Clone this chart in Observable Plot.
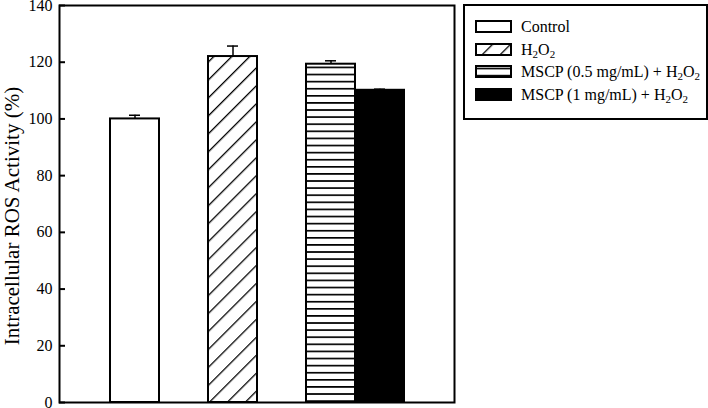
<!DOCTYPE html>
<html>
<head>
<meta charset="utf-8">
<script src="https://cdn.jsdelivr.net/npm/d3@7"></script>
<script src="https://cdn.jsdelivr.net/npm/@observablehq/plot@0.6"></script>
<style>
  html, body { margin: 0; padding: 0; background: #fff; }
  #wrap { position: relative; width: 708px; height: 408px; font-family: "Liberation Serif", "Times New Roman", serif; }
  #legend { position: absolute; left: 463px; top: 4px; width: 241px; height: 112px; border: 2px solid #000; background: #fff; }
  .row { position: absolute; left: 10px; height: 20px; display: flex; align-items: center; font-size: 16px; color: #000; white-space: nowrap; }
  .row svg { margin-right: 8px; }
  sub { font-size: 11px; vertical-align: -3px; line-height: 0; }
</style>
</head>
<body>
<svg width="0" height="0" style="position:absolute">
  <defs>
    <pattern id="diag" patternUnits="userSpaceOnUse" width="12.7" height="12.7" patternTransform="rotate(45)">
      <rect width="12.7" height="12.7" fill="#fff"/>
      <line x1="0" y1="0" x2="0" y2="12.7" stroke="#000" stroke-width="2.6"/>
    </pattern>
    <pattern id="horiz" patternUnits="userSpaceOnUse" width="8" height="7.1">
      <rect width="8" height="7.1" fill="#fff"/>
      <line x1="0" y1="3.5" x2="8" y2="3.5" stroke="#000" stroke-width="1.7"/>
    </pattern>
  </defs>
</svg>
<div id="wrap"></div>
<script>
// ---- data ----
const categories = ["Control", "H2O2", "MSCP (0.5 mg/mL) + H2O2", "MSCP (1 mg/mL) + H2O2"];
const values = [100, 122, 119.3, 110.1];
const errors = [1.3, 3.7, 1.2, 0.4];
const yTicks = [0, 20, 40, 60, 80, 100, 120, 140];
const yLabel = "Intracellular ROS Activity (%)";
const legendLabels = ["Control", "H<sub>2</sub>O<sub>2</sub>", "MSCP (0.5 mg/mL) + H<sub>2</sub>O<sub>2</sub>", "MSCP (1 mg/mL) + H<sub>2</sub>O<sub>2</sub>"];

// ---- styles ----
const fills = ["#fff", "url(#diag)", "url(#horiz)", "#000"];

const data = categories.map((c, i) => ({cat: c, value: values[i], err: errors[i], fill: fills[i]}));
// band domain with empty spacer slots between groups (last two bars touch)
const xDomain = ["_g0", categories[0], "_g1", categories[1], "_g2", categories[2], categories[3], "_g3"];

const chart = Plot.plot({
  width: 708,
  height: 408,
  marginLeft: 59,
  marginRight: 254,
  marginTop: 5,
  marginBottom: 6,
  style: {fontFamily: "'Liberation Serif', 'Times New Roman', serif", background: "#fff", color: "#000", overflow: "visible"},
  x: {type: "band", domain: xDomain, padding: 0, axis: null},
  y: {domain: [0, 140], axis: null},
  color: {type: "identity"},
  marks: [
    Plot.barY(data, {x: "cat", y: "value", fill: "fill", stroke: "#000", strokeWidth: 2}),
    Plot.ruleX(data, {x: "cat", y1: "value", y2: d => d.value + d.err, stroke: "#000", strokeWidth: 1.5}),
    Plot.tickY(data, {x: "cat", y: d => d.value + d.err, stroke: "#000", strokeWidth: 1.5, insetLeft: 19, insetRight: 19}),
    Plot.axisY(yTicks, {anchor: "left", tickSize: -6, tickPadding: 13, fontSize: 16, strokeWidth: 2, label: null}),
    Plot.frame({stroke: "#000", strokeWidth: 2}),
    Plot.text([yLabel], {frameAnchor: "left", textAnchor: "middle", rotate: -90, dx: -47, dy: 12, fontSize: 21, fill: "#000"})
  ]
});
document.getElementById("wrap").appendChild(chart);

// ---- legend ----
const legend = d3.select("#wrap").append("div").attr("id", "legend");
legendLabels.forEach((lab, i) => {
  const row = legend.append("div").attr("class", "row").style("top", (11 + i * 22.7) + "px");
  const sw = row.append("svg").attr("width", 38).attr("height", 14);
  sw.append("rect").attr("x", 1).attr("y", 1).attr("width", 35).attr("height", 11)
    .attr("fill", fills[i]).attr("stroke", "#000").attr("stroke-width", 2);
  row.append("span").html(lab);
});
</script>
</body>
</html>
